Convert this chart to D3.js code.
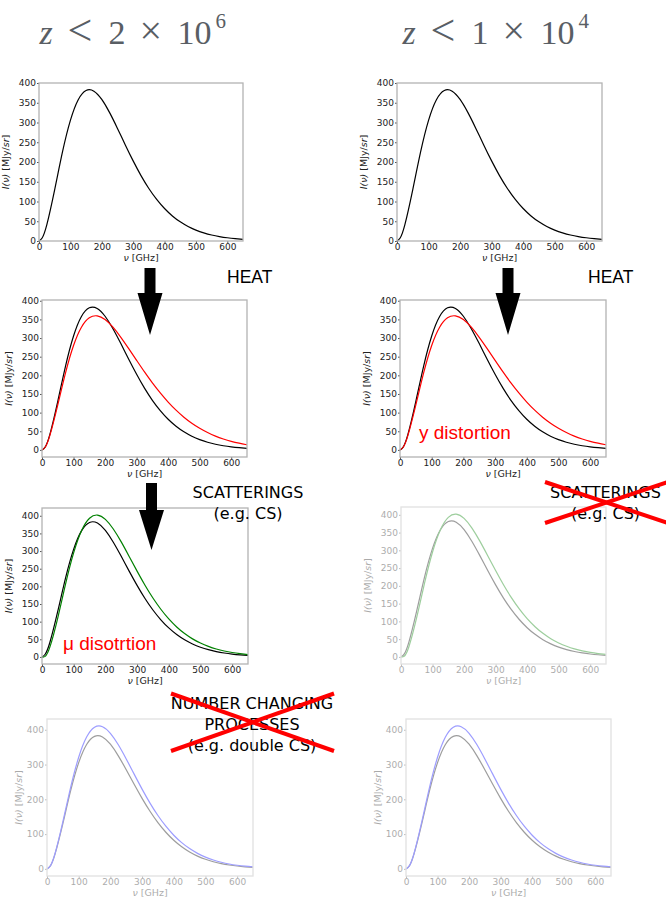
<!DOCTYPE html>
<html>
<head>
<meta charset="utf-8">
<script src="https://cdn.jsdelivr.net/npm/d3@7"></script>
<style>
  body { margin: 0; background: #fff; }
  svg { display: block; }
</style>
</head>
<body>
<div id="chart"></div>
<script>
var freqGHz = [0, 10, 25, 50, 75, 100, 125, 150, 175, 200, 225, 250, 275, 300, 325,
               350, 375, 400, 425, 450, 475, 500, 525, 550, 575, 600, 625, 650];

// CMB blackbody, I(v) in MJy/sr
var blackbody = [0, 7.7, 41.6, 130.3, 226.2, 305.5, 357.8, 381.1, 379.3, 358.4, 325.0, 285.1, 243.2, 202.8, 165.6,
                 133.0, 105.3, 82.2, 63.5, 48.5, 36.7, 27.6, 20.6, 15.2, 11.2, 8.2, 6.0, 4.3];

// after heating: y distortion (red)
var yDistortion = [0, 7.2, 39.0, 120.8, 208.0, 280.0, 329.0, 354.2, 359.5, 349.5, 329.0, 302.0, 271.6, 240.3, 209.2,
                   179.8, 152.8, 128.3, 106.7, 87.8, 71.6, 58.0, 46.6, 37.0, 29.3, 23.0, 18.0, 13.8];

// after scatterings: mu distortion (green)
var muDistortion = [0, 1.6, 28.5, 111.7, 209.1, 295.4, 358.1, 392.9, 402.0, 389.9, 362.5, 325.9, 284.8, 243.1, 203.1,
                    166.9, 135.1, 107.7, 85.0, 66.3, 51.2, 39.3, 29.9, 22.5, 16.9, 12.6, 9.4, 6.8];

// after number changing processes: hotter blackbody (blue)
var hotterBlackbody = [0, 7.8, 42.8, 135.0, 235.9, 321.0, 379.0, 407.2, 408.9, 389.9, 356.9, 316.1, 272.4, 229.3, 189.2,
                       153.5, 122.7, 96.8, 75.5, 58.3, 44.6, 33.8, 25.5, 19.0, 14.1, 10.5, 7.7, 5.6];

var xTicks = [0, 100, 200, 300, 400, 500, 600];
var yTicksFine = [0, 50, 100, 150, 200, 250, 300, 350, 400];
var yTicksCoarse = [0, 100, 200, 300, 400];

var width = 666, height = 899;

var svg = d3.select("#chart").append("svg")
    .attr("width", width)
    .attr("height", height);

// one entry per small plot
var panels = [
    { left: 39,  right: 243, top: 83,  bottom: 241, ylim: [0, 400],     yTicks: yTicksFine,   faded: false, labelOff: 30,
      series: [{ values: blackbody, color: "#000" }] },
    { left: 397, right: 602, top: 83,  bottom: 241, ylim: [0, 400],     yTicks: yTicksFine,   faded: false, labelOff: 30,
      series: [{ values: blackbody, color: "#000" }] },
    { left: 42,  right: 247, top: 300, bottom: 457, ylim: [-19, 402],   yTicks: yTicksFine,   faded: false, labelOff: 30,
      series: [{ values: blackbody, color: "#000" }, { values: yDistortion, color: "#ff0000" }] },
    { left: 400, right: 606, top: 300, bottom: 457, ylim: [-19, 402],   yTicks: yTicksFine,   faded: false, labelOff: 30,
      series: [{ values: blackbody, color: "#000" }, { values: yDistortion, color: "#ff0000" }] },
    { left: 42,  right: 248, top: 508, bottom: 664, ylim: [-20, 422],   yTicks: yTicksFine,   faded: false, labelOff: 30,
      series: [{ values: blackbody, color: "#000" }, { values: muDistortion, color: "#008000" }] },
    { left: 401, right: 606, top: 507, bottom: 664, ylim: [-20, 422],   yTicks: yTicksFine,   faded: true,  labelOff: 30,
      series: [{ values: blackbody, color: "#000" }, { values: muDistortion, color: "#008000" }] },
    { left: 47,  right: 253, top: 719, bottom: 876, ylim: [-20.5, 431], yTicks: yTicksCoarse, faded: true,  labelOff: 25,
      series: [{ values: blackbody, color: "#000" }, { values: hotterBlackbody, color: "#0000ff" }] },
    { left: 406, right: 611, top: 719, bottom: 876, ylim: [-20.5, 431], yTicks: yTicksCoarse, faded: true,  labelOff: 25,
      series: [{ values: blackbody, color: "#000" }, { values: hotterBlackbody, color: "#0000ff" }] }
];

function drawPanel(p) {
    var g = svg.append("g").attr("opacity", p.faded ? 0.38 : 1);

    var x = d3.scaleLinear().domain([0, 650]).range([p.left, p.right]);
    var y = d3.scaleLinear().domain(p.ylim).range([p.bottom, p.top]);

    // 坐标轴
    var xAxis = g.append("g")
        .attr("transform", "translate(0," + p.bottom + ")")
        .call(d3.axisBottom(x).tickValues(xTicks).tickSize(2).tickPadding(1));
    var yAxis = g.append("g")
        .attr("transform", "translate(" + p.left + ",0)")
        .call(d3.axisLeft(y).tickValues(p.yTicks).tickSize(2).tickPadding(1));
    [xAxis, yAxis].forEach(function(a) {
        a.select(".domain").remove();
        a.selectAll("line").attr("stroke", "#555");
        a.selectAll("text")
            .attr("fill", "#222")
            .style("font-family", "DejaVu Sans")
            .style("font-size", "9px");
    });

    // curves, smooth through the read points
    var line = d3.line()
        .x(function(d, i) { return x(freqGHz[i]); })
        .y(function(d) { return y(d); })
        .curve(d3.curveNatural);

    p.series.forEach(function(s) {
        g.append("path")
            .attr("d", line(s.values))
            .attr("fill", "none")
            .attr("stroke", s.color)
            .attr("stroke-width", 1.2);
    });

    // frame
    g.append("rect")
        .attr("x", p.left).attr("y", p.top)
        .attr("width", p.right - p.left).attr("height", p.bottom - p.top)
        .attr("fill", "none")
        .attr("stroke", "#b3b3b3")
        .attr("stroke-width", 1.3);

    // axis labels
    var xl = g.append("text")
        .attr("x", (p.left + p.right) / 2).attr("y", p.bottom + 20)
        .attr("text-anchor", "middle")
        .style("font-family", "DejaVu Sans").style("font-size", "9.5px")
        .attr("fill", "#222");
    xl.append("tspan").style("font-style", "italic").text("ν");
    xl.append("tspan").text(" [GHz]");

    var yl = g.append("text")
        .attr("transform", "translate(" + (p.left - p.labelOff) + "," + ((p.top + p.bottom) / 2) + ") rotate(-90)")
        .attr("text-anchor", "middle")
        .style("font-family", "DejaVu Sans").style("font-size", "9.5px")
        .attr("fill", "#222");
    yl.append("tspan").style("font-style", "italic").text("I(ν)");
    yl.append("tspan").text(" [MJy/");
    yl.append("tspan").style("font-style", "italic").text("sr");
    yl.append("tspan").text("]");
}

panels.forEach(drawPanel);

// column titles
function title(x0, mant, expo) {
    var g = svg.append("g").attr("fill", "#595e64").style("font-family", "Liberation Serif");
    g.append("text").attr("x", x0).attr("y", 43.5).style("font-size", "34px").style("font-style", "italic").text("z");
    g.append("text").attr("x", x0 + 28).attr("y", 44.5).style("font-size", "44px").text("<");
    g.append("text").attr("x", x0 + 69).attr("y", 43.5).style("font-size", "34px").text(mant);
    g.append("text").attr("x", x0 + 100).attr("y", 43.5).style("font-size", "40px").text("×");
    g.append("text").attr("x", x0 + 138).attr("y", 43.5).style("font-size", "34px").text("10");
    g.append("text").attr("x", x0 + 176).attr("y", 27.5).style("font-size", "21px").text(expo);
}
title(39.5, "2", "6");
title(402.5, "1", "4");

// HEAT labels
[227, 588].forEach(function(xx) {
    svg.append("text").attr("x", xx).attr("y", 282.5)
        .style("font-family", "Liberation Sans").style("font-size", "17.5px")
        .attr("fill", "#000").text("HEAT");
});

// big down arrows
function arrow(cx, top, neck, tip) {
    var sw = 5.5, hw = 12.5;
    var pts = [[cx - sw, top], [cx + sw, top], [cx + sw, neck], [cx + hw, neck],
               [cx, tip], [cx - hw, neck], [cx - sw, neck]];
    svg.append("path").attr("d", "M" + pts.join("L") + "Z").attr("fill", "#000");
}
arrow(150, 268, 293, 335);
arrow(508, 268, 293, 335);
arrow(151.5, 483, 510, 550);

// multi-line labels
function block(cx, y0, lines) {
    var t = svg.append("text")
        .attr("text-anchor", "middle")
        .style("font-family", "DejaVu Sans").style("font-size", "16px")
        .attr("fill", "#000");
    lines.forEach(function(s, i) {
        t.append("tspan").attr("x", cx).attr("y", y0 + i * 21).text(s);
    });
}
block(248, 498, ["SCATTERINGS", "(e.g. CS)"]);
block(605.5, 498, ["SCATTERINGS", "(e.g. CS)"]);
block(252, 708.5, ["NUMBER CHANGING", "PROCESSES", "(e.g. double CS)"]);

// red crosses
function cross(x1, y1, x2, y2) {
    svg.append("line").attr("x1", x1).attr("y1", y1).attr("x2", x2).attr("y2", y2)
        .attr("stroke", "#ff0000").attr("stroke-width", 4);
    svg.append("line").attr("x1", x1).attr("y1", y2).attr("x2", x2).attr("y2", y1)
        .attr("stroke", "#ff0000").attr("stroke-width", 4);
}
cross(545, 482, 668, 523);
cross(171, 693.5, 334, 751);

// red distortion names
svg.append("text").attr("x", 419).attr("y", 439)
    .style("font-family", "Liberation Sans").style("font-size", "19px")
    .attr("fill", "#ff0000").text("y distortion");
svg.append("text").attr("x", 63).attr("y", 649.5)
    .style("font-family", "Liberation Sans").style("font-size", "19px")
    .attr("fill", "#ff0000").text("μ disotrtion");
</script>
</body>
</html>
